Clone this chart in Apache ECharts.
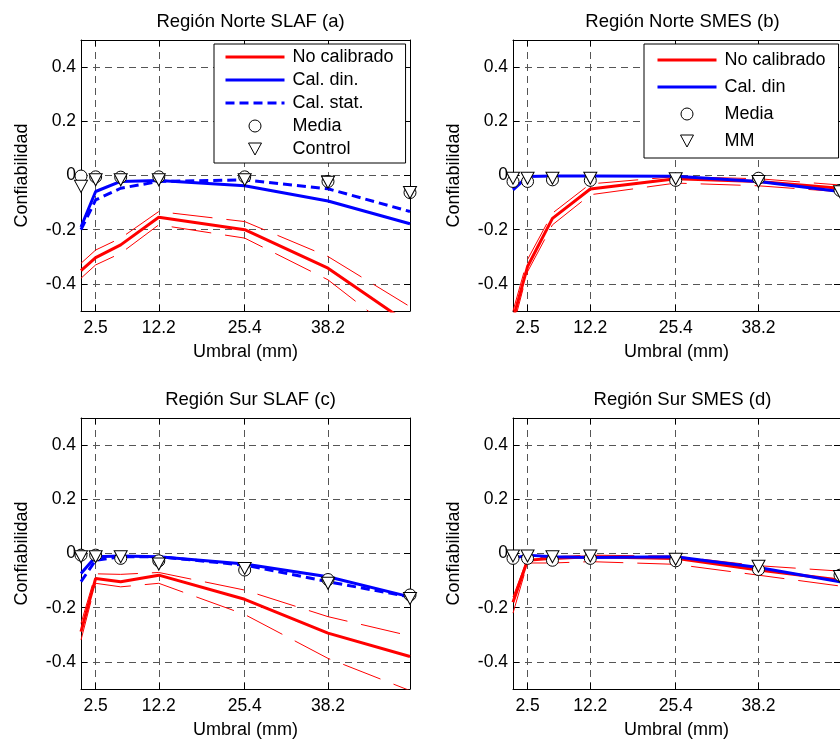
<!DOCTYPE html>
<html><head><meta charset="utf-8">
<script src="https://cdn.jsdelivr.net/npm/echarts@6/dist/echarts.min.js"></script>
<style>html,body{margin:0;padding:0;background:#fff}#c{width:840px;height:745px}</style>
</head><body><div id="c"></div>
<script>
// ---- data ----
const umbral = [0.25, 2.5, 6.35, 12.2, 25.4, 38.2, 50.8];
const xTicks = [2.5, 12.2, 25.4, 38.2];
const yTicks = [-0.4, -0.2, 0, 0.2, 0.4];

// (a) Región Norte SLAF
const aNoCal   = [-0.351, -0.303, -0.256, -0.154, -0.200, -0.342, -0.55];
const aNoCalUp = [-0.324, -0.275, -0.231, -0.133, -0.170, -0.299, -0.484];
const aNoCalLo = [-0.379, -0.330, -0.287, -0.182, -0.231, -0.385, -0.62];
const aDin     = [-0.190, -0.059, -0.022, -0.018, -0.038, -0.094, -0.178];
const aStat    = [-0.200, -0.090, -0.047, -0.022, -0.016, -0.049, -0.133];
const aMedia   = [-0.002, -0.005, -0.006, -0.005, -0.005, -0.022, -0.063];
const aControl = [-0.040, -0.016, -0.016, -0.016, -0.016, -0.025, -0.063];

// (b) Región Norte SMES
const bNoCal   = [-0.53, -0.336, -0.158, -0.050, -0.012, -0.022, -0.047];
const bNoCalUp = [-0.50, -0.310, -0.139, -0.031, -0.004, -0.012, -0.035];
const bNoCalLo = [-0.56, -0.355, -0.182, -0.071, -0.028, -0.038, -0.060];
const bDin     = [-0.053, -0.004, -0.002, -0.002, -0.003, -0.022, -0.059];
const bMedia   = [-0.022, -0.022, -0.016, -0.018, -0.018, -0.010, -0.055];
const bMM      = [-0.010, -0.010, -0.010, -0.010, -0.012, -0.022, -0.060];

// (c) Región Sur SLAF
const cNoCal   = [-0.288, -0.092, -0.104, -0.080, -0.169, -0.294, -0.380];
const cNoCalUp = [-0.258, -0.075, -0.077, -0.070, -0.135, -0.233, -0.304];
const cNoCalLo = [-0.319, -0.110, -0.123, -0.110, -0.225, -0.387, -0.506];
const cDin     = [-0.074, -0.012, -0.009, -0.012, -0.039, -0.086, -0.160];
const cStat    = [-0.104, -0.025, -0.012, -0.012, -0.043, -0.104, -0.160];
const cMedia   = [-0.006, -0.006, -0.018, -0.027, -0.061, -0.096, -0.153];
const cControl = [-0.012, -0.012, -0.012, -0.039, -0.055, -0.110, -0.166];

// (d) Región Sur SMES
const dNoCal   = [-0.180, -0.025, -0.018, -0.012, -0.018, -0.061, -0.098];
const dNoCalUp = [-0.160, -0.018, -0.012, -0.006, -0.010, -0.045, -0.065];
const dNoCalLo = [-0.220, -0.035, -0.035, -0.030, -0.040, -0.080, -0.120];
const dDin     = [-0.018, -0.006, -0.012, -0.015, -0.012, -0.052, -0.104];
const dMedia   = [-0.018, -0.018, -0.025, -0.018, -0.027, -0.059, -0.080];
const dMM      = [-0.009, -0.009, -0.012, -0.009, -0.021, -0.047, -0.085];

const titles = ['Región Norte SLAF (a)', 'Región Norte SMES (b)', 'Región Sur SLAF (c)', 'Región Sur SMES (d)'];
const xName = 'Umbral (mm)';
const yName = 'Confiabilidad';

// ---- styling / layout ----
const FONT = '"Liberation Sans", Arial, Helvetica, sans-serif';
const RED = '#ff0000', BLUE = '#0000ff';
const grids = [
  {left: 81,  top: 40,  width: 329, height: 271},
  {left: 513, top: 40,  width: 329, height: 271},
  {left: 81,  top: 418, width: 329, height: 271},
  {left: 513, top: 418, width: 329, height: 271}
];
const gridLine = {show: true, lineStyle: {color: '#555', width: 1, type: [7, 5]}};

function pairs(ys) { return umbral.map((x, k) => [x, ys[k]]); }
function line(name, g, ys, color, width, type, z) {
  return {type: 'line', name, xAxisIndex: 2 * g, yAxisIndex: 2 * g, data: pairs(ys),
    symbol: 'none', showSymbol: false, lineStyle: {color, width, type}, itemStyle: {color},
    clip: true, animation: false, silent: true, z, emphasis: {disabled: true}};
}
function marks(name, g, ys, symbol, size, rotate, z) {
  return {type: 'scatter', name, xAxisIndex: 2 * g, yAxisIndex: 2 * g, data: pairs(ys),
    symbol, symbolSize: size, symbolRotate: rotate,
    itemStyle: {color: '#fff', borderColor: '#000', borderWidth: 1, opacity: 1},
    clip: false, animation: false, silent: true, z, emphasis: {disabled: true}};
}

const xAxes = [], yAxes = [], titleOpts = [];
grids.forEach((gr, g) => {
  xAxes.push({type: 'value', gridIndex: g, position: 'bottom', min: umbral[0], max: umbral[umbral.length - 1],
    name: xName, nameLocation: 'middle', nameGap: 32,
    nameTextStyle: {fontFamily: FONT, fontSize: 18, color: '#000'},
    axisLine: {show: true, onZero: false, lineStyle: {color: '#000', width: 1}},
    axisTick: {show: true, inside: true, length: 6, customValues: xTicks, lineStyle: {color: '#000'}},
    axisLabel: {show: true, customValues: xTicks, margin: 8, fontFamily: FONT, fontSize: 17.5, color: '#000'},
    splitLine: gridLine});
  xAxes.push({type: 'value', gridIndex: g, position: 'top', min: umbral[0], max: umbral[umbral.length - 1],
    axisLine: {show: true, onZero: false, lineStyle: {color: '#000', width: 1}},
    axisTick: {show: true, inside: true, length: 6, customValues: xTicks, lineStyle: {color: '#000'}},
    axisLabel: {show: false}, splitLine: {show: false}});
  yAxes.push({type: 'value', gridIndex: g, position: 'left', min: -0.5, max: 0.5,
    name: yName, nameLocation: 'middle', nameGap: 50,
    nameTextStyle: {fontFamily: FONT, fontSize: 18, color: '#000'},
    axisLine: {show: true, onZero: false, lineStyle: {color: '#000', width: 1}},
    axisTick: {show: true, inside: true, length: 6, customValues: yTicks, lineStyle: {color: '#000'}},
    axisLabel: {show: true, customValues: yTicks, margin: 5, fontFamily: FONT, fontSize: 17.5, color: '#000'},
    splitLine: gridLine});
  yAxes.push({type: 'value', gridIndex: g, position: 'right', min: -0.5, max: 0.5,
    axisLine: {show: true, onZero: false, lineStyle: {color: '#000', width: 1}},
    axisTick: {show: true, inside: true, length: 6, customValues: yTicks, lineStyle: {color: '#000'}},
    axisLabel: {show: false}, splitLine: {show: false}});
  titleOpts.push({text: titles[g], left: gr.left + gr.width / 2, top: gr.top - 33, textAlign: 'center',
    textStyle: {fontFamily: FONT, fontSize: 18.5, fontWeight: 'normal', color: '#000'}});
});

const BAND = [40, 14];
const series = [
  // (a)
  line('IC a sup', 0, aNoCalUp, RED, 1, BAND, 2),
  line('IC a inf', 0, aNoCalLo, RED, 1, BAND, 2),
  line('No calibrado', 0, aNoCal, RED, 3, 'solid', 3),
  line('Cal. din.', 0, aDin, BLUE, 3, 'solid', 3),
  line('Cal. stat.', 0, aStat, BLUE, 3, [9, 5], 3),
  marks('Media', 0, aMedia, 'circle', 12, 0, 5),
  marks('Control', 0, aControl, 'triangle', [13, 12], 180, 6),
  // (b)
  line('IC b sup', 1, bNoCalUp, RED, 1, BAND, 2),
  line('IC b inf', 1, bNoCalLo, RED, 1, BAND, 2),
  line('No calibrado', 1, bNoCal, RED, 3, 'solid', 3),
  line('Cal. din', 1, bDin, BLUE, 3, 'solid', 3),
  marks('Media', 1, bMedia, 'circle', 12, 0, 5),
  marks('MM', 1, bMM, 'triangle', [13, 12], 180, 6),
  // (c)
  line('IC c sup', 2, cNoCalUp, RED, 1, BAND, 2),
  line('IC c inf', 2, cNoCalLo, RED, 1, BAND, 2),
  line('No calibrado', 2, cNoCal, RED, 3, 'solid', 3),
  line('Cal. din.', 2, cDin, BLUE, 3, 'solid', 3),
  line('Cal. stat.', 2, cStat, BLUE, 3, [9, 5], 3),
  marks('Media', 2, cMedia, 'circle', 12, 0, 5),
  marks('Control', 2, cControl, 'triangle', [13, 12], 180, 6),
  // (d)
  line('IC d sup', 3, dNoCalUp, RED, 1, BAND, 2),
  line('IC d inf', 3, dNoCalLo, RED, 1, BAND, 2),
  line('No calibrado', 3, dNoCal, RED, 3, 'solid', 3),
  line('Cal. din', 3, dDin, BLUE, 3, 'solid', 3),
  marks('Media', 3, dMedia, 'circle', 12, 0, 5),
  marks('MM', 3, dMM, 'triangle', [13, 12], 180, 6)
];

const legendBase = {orient: 'vertical', itemWidth: 59, itemHeight: 12, borderColor: '#000', borderWidth: 1,
  backgroundColor: '#fff', z: 10, selectedMode: false, symbolKeepAspect: true,
  textStyle: {fontFamily: FONT, fontSize: 18, color: '#000', padding: [0, 0, 0, 3]},
  lineStyle: {width: 3}, itemStyle: {borderWidth: 1}};
const hideSym = {opacity: 0};
const downTri = 'path://M0,0 L13,0 L6.5,12 Z';
const legends = [
  Object.assign({}, legendBase, {left: 214, top: 44, padding: [4, 12, 5, 10], itemGap: 5,
    data: [{name: 'No calibrado', itemStyle: hideSym}, {name: 'Cal. din.', itemStyle: hideSym},
           {name: 'Cal. stat.', itemStyle: hideSym}, 'Media',
           {name: 'Control', icon: downTri, iconRotate: 0}]}),
  Object.assign({}, legendBase, {left: 644, top: 44, padding: [7, 13, 8, 12], itemGap: 9,
    data: [{name: 'No calibrado', itemStyle: hideSym}, {name: 'Cal. din', itemStyle: hideSym}, 'Media',
           {name: 'MM', icon: downTri, iconRotate: 0}]})
];

const chart = echarts.init(document.getElementById('c'), null, {renderer: 'canvas'});
chart.setOption({
  backgroundColor: '#fff',
  animation: false,
  title: titleOpts,
  grid: grids,
  xAxis: xAxes,
  yAxis: yAxes,
  legend: legends,
  series
});
</script>
</body></html>
